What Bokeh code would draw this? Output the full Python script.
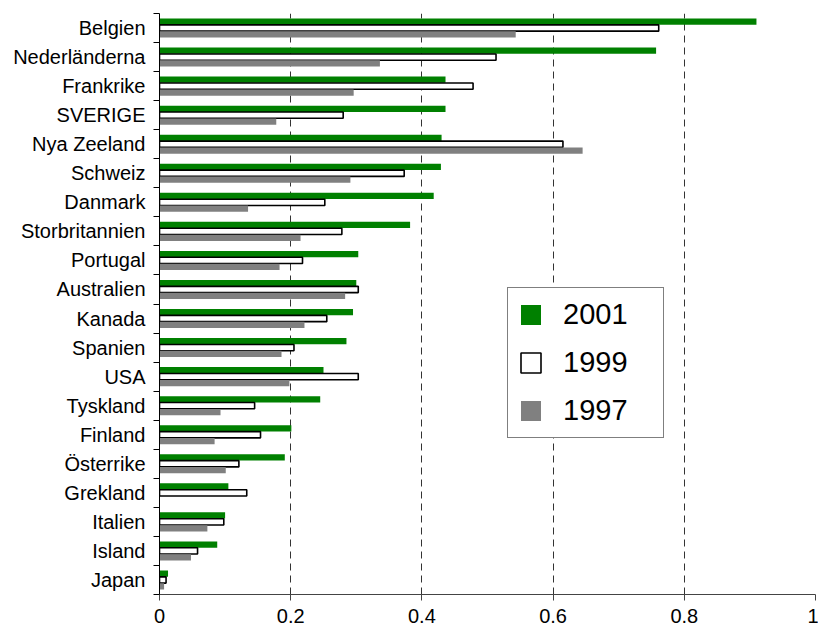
from bokeh.plotting import figure
from bokeh.models import (ColumnDataSource, Range1d, FixedTicker, Legend, LegendItem)
from bokeh.embed import file_html
from bokeh.resources import INLINE

countries = ["Belgien", "Nederländerna", "Frankrike", "SVERIGE", "Nya Zeeland",
             "Schweiz", "Danmark", "Storbritannien", "Portugal", "Australien",
             "Kanada", "Spanien", "USA", "Tyskland", "Finland", "Österrike",
             "Grekland", "Italien", "Island", "Japan"]
v2001 = [0.910, 0.757, 0.436, 0.436, 0.430, 0.429, 0.418, 0.382, 0.303, 0.300,
         0.295, 0.285, 0.250, 0.245, 0.201, 0.191, 0.105, 0.100, 0.088, 0.013]
v1999 = [0.761, 0.513, 0.478, 0.280, 0.615, 0.373, 0.252, 0.278, 0.218, 0.303,
         0.255, 0.205, 0.303, 0.145, 0.154, 0.121, 0.133, 0.098, 0.058, 0.010]
v1997 = [0.543, 0.336, 0.296, 0.178, 0.645, 0.291, 0.135, 0.215, 0.183, 0.283,
         0.221, 0.186, 0.198, 0.093, 0.084, 0.101, 0.000, 0.073, 0.048, 0.007]
series_names = ["2001", "1999", "1997"]
x_ticks = [0, 0.2, 0.4, 0.6, 0.8, 1.0]
x_tick_labels = ["0", "0.2", "0.4", "0.6", "0.8", "1"]

n = len(countries)
centers = [n - i - 0.5 for i in range(n)]
boundaries = list(range(n + 1))
off = 0.22
hgt = 0.215

src = ColumnDataSource(dict(
    y01=[c + off for c in centers],
    y99=centers,
    y97=[c - off for c in centers],
    v2001=v2001, v1999=v1999, v1997=v1997,
))

FONT = "Liberation Sans"

p = figure(width=818, height=631, output_backend="svg", toolbar_location=None,
           x_range=Range1d(0, 1), y_range=Range1d(0, n),
           min_border_left=159, min_border_right=3, min_border_top=13,
           min_border_bottom=37)
p.outline_line_color = None
p.background_fill_color = "white"
p.border_fill_color = "white"

r01 = p.hbar(y="y01", right="v2001", left=0, height=hgt, source=src,
             fill_color="#008000", line_color=None)
r99 = p.hbar(y="y99", right="v1999", left=0, height=hgt, source=src,
             fill_color="white", line_color="black", line_width=1.6)
r97 = p.hbar(y="y97", right="v1997", left=0, height=hgt, source=src,
             fill_color="#808080", line_color=None)

# x axis
xa = p.xaxis[0]
xa.ticker = FixedTicker(ticks=x_ticks, minor_ticks=[])
xa.major_label_overrides = {t: l for t, l in zip(x_ticks, x_tick_labels)}
xa.major_label_text_font = FONT
xa.major_label_text_font_size = "20px"
xa.major_label_text_color = "black"
xa.axis_line_color = "#444444"
xa.major_tick_line_color = "#444444"
xa.major_tick_out = 6
xa.major_tick_in = 0
xa.minor_tick_line_color = None
xa.major_label_standoff = 8

# y axis
ya = p.yaxis[0]
ya.ticker = FixedTicker(ticks=centers, minor_ticks=boundaries)
ya.major_label_overrides = {c: name for c, name in zip(centers, countries)}
ya.major_label_text_font = FONT
ya.major_label_text_font_size = "20px"
ya.major_label_text_color = "black"
ya.axis_line_color = "black"
ya.major_tick_line_color = None
ya.major_tick_out = 0
ya.major_tick_in = 0
ya.minor_tick_line_color = "black"
ya.minor_tick_out = 6
ya.minor_tick_in = 0
ya.major_label_standoff = 8

p.xgrid.grid_line_color = "#333333"
p.xgrid.grid_line_dash = "7 5"
p.xgrid.grid_line_width = 1
p.ygrid.grid_line_color = None

legend = Legend(items=[LegendItem(label=series_names[0], renderers=[r01]),
                       LegendItem(label=series_names[1], renderers=[r99]),
                       LegendItem(label=series_names[2], renderers=[r97])],
                location=(348, 156), padding=10, spacing=15, margin=0,
                glyph_width=25, glyph_height=25, label_height=32,
                label_width=90, label_standoff=20,
                label_text_font=FONT, label_text_font_size="29px",
                label_text_color="black",
                border_line_color="black", border_line_width=1,
                background_fill_color="white", background_fill_alpha=1)
p.add_layout(legend, "center")

open("out.html", "w").write(file_html(p, INLINE))
